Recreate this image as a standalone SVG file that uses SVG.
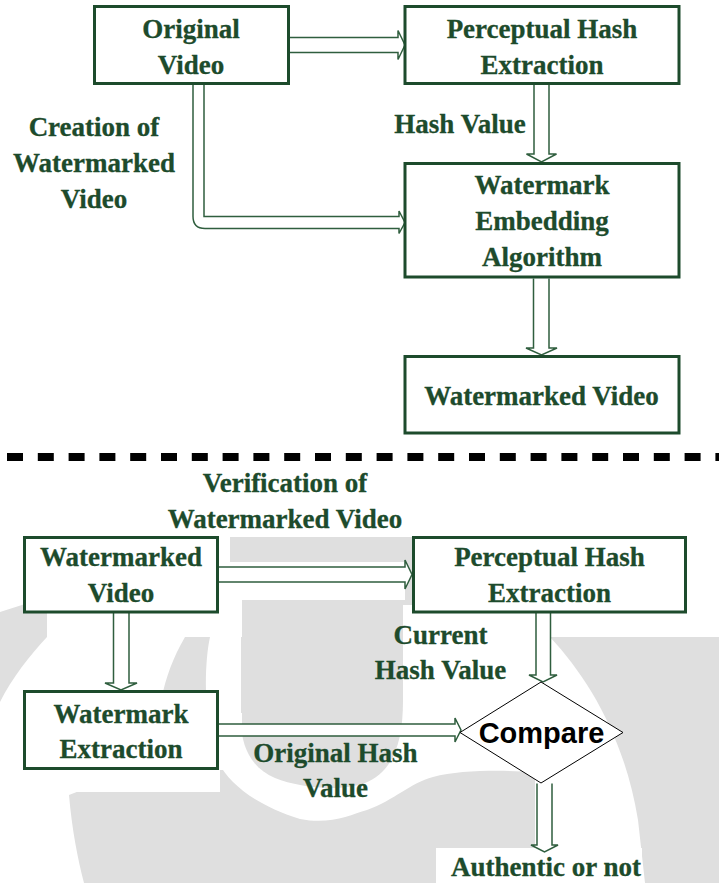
<svg xmlns="http://www.w3.org/2000/svg" width="719" height="883" viewBox="0 0 719 883">
  <defs>
    <style>
      .bg { fill: #dfdfdf; stroke: none; }
      .wh { fill: #ffffff; stroke: none; }
      .box { fill: #ffffff; stroke: #1d4b2c; stroke-width: 3; }
      .lbl { font-family: "Liberation Serif", "Times New Roman", serif; font-weight: bold; font-size: 27px; fill: #1d4b2c; stroke: #1d4b2c; stroke-width: 0.3; text-anchor: middle; }
      .arrow { fill: #ffffff; stroke: #2f5e3e; stroke-width: 1.5; stroke-linejoin: miter; }
      .cmp { font-family: "Liberation Sans", Arial, sans-serif; font-weight: bold; font-size: 29px; fill: #000000; text-anchor: middle; }
      .dash { stroke: #000000; stroke-width: 8; stroke-dasharray: 16 14.8; fill: none; }
    </style>
  </defs>

  <rect x="0" y="0" width="719" height="883" fill="#ffffff"/>

  <!-- faint emblem behind the lower half -->
  <g id="emblem">
    <!-- left arc of the outer ring -->
    <path class="bg" d="M0,612 L47,597 L47,637 C30,655 12,678 0,702 Z"/>
    <!-- band under the verification heading -->
    <path class="bg" d="M230,537 H412 V605 H230 Z"/>
    <rect class="wh" x="218" y="562" width="187" height="38"/>
    <!-- upper blob -->
    <path class="bg" d="M243,605 H403 V700 C403,745 392,772 365,783 C340,792 300,788 275,778 C252,768 241,748 241,720 V605 Z"/>
    <!-- outer C-shaped band wrapping left and bottom -->
    <path class="bg" d="M185,637 L210,637 C205,660 204,700 210,740 C216,770 240,800 300,819 C330,825 350,815 367,810 C395,800 410,783 433,777 C460,770 500,770 535,772 L535,883 L84,883 C78,860 72,830 69,795 C100,782 130,775 156,770 C156,720 160,680 185,637 Z"/>
    <!-- right arc of the outer ring -->
    <path class="bg" d="M550,637 C590,680 625,740 638,820 L645,883 H719 V637 Z"/>
    <!-- clear areas behind labels -->
    <rect class="wh" x="47" y="600" width="195" height="37"/>
    <rect class="wh" x="0" y="770" width="220" height="22"/>
    <rect class="wh" x="218" y="713" width="24" height="57"/>
    <rect class="wh" x="436" y="848" width="206" height="35"/>
  </g>

  <!-- separator between creation and verification -->
  <line id="separator" class="dash" x1="7" y1="457" x2="719" y2="457"/>

  <!-- connectors (block arrows) -->
  <g id="connectors">
    <path class="arrow" d="M289.5,37.5 H398 V30.5 L405,45 L398,59.5 V52.5 H289.5"/>
    <path class="arrow" d="M534,84.5 V154 H526.5 L541.5,162 L556.5,154 H549 V84.5"/>
    <path class="arrow" d="M193,84.5 V216.5 Q193,228.5 205,228.5 H399 V233.5 L405,222.5 L399,211 V216.5 H204 V84.5"/>
    <path class="arrow" d="M533.5,278.5 V348 H526 L541.5,355 L557,348 H549 V278.5"/>
    <path class="arrow" d="M218.5,567 H405 V560 L412,574.5 L405,589 V582 H218.5"/>
    <path class="arrow" d="M113.5,613 V683 H105 L121,690 L137,683 H129 V613"/>
    <path class="arrow" d="M219,724 H455 V718 L461,730 L455,742 V736 H219"/>
    <path class="arrow" d="M536,613 V675 H529 L543,682 L557,675 H550.5 V613"/>
    <path class="arrow" d="M537,783.5 V845 H531 L544.5,852 L558,845 H552 V783.5"/>
  </g>

  <!-- creation stage -->
  <g id="original-video">
    <rect class="box" x="94.5" y="6.5" width="194" height="77"/>
    <text class="lbl" x="191" y="38">Original</text>
    <text class="lbl" x="191" y="74">Video</text>
  </g>
  <g id="hash-extraction-1">
    <rect class="box" x="405" y="6.5" width="274" height="77"/>
    <text class="lbl" x="542" y="38">Perceptual Hash</text>
    <text class="lbl" x="542" y="74">Extraction</text>
  </g>
  <g id="label-hash-value">
    <text class="lbl" x="460" y="133">Hash Value</text>
  </g>
  <g id="label-creation">
    <text class="lbl" x="94" y="136">Creation of</text>
    <text class="lbl" x="94" y="172">Watermarked</text>
    <text class="lbl" x="94" y="208">Video</text>
  </g>
  <g id="embedding">
    <rect class="box" x="405" y="163.5" width="274" height="113.5"/>
    <text class="lbl" x="542" y="194">Watermark</text>
    <text class="lbl" x="542" y="230">Embedding</text>
    <text class="lbl" x="542" y="266">Algorithm</text>
  </g>
  <g id="watermarked-video-out">
    <rect class="box" x="405" y="356.5" width="274" height="76.5"/>
    <text class="lbl" x="541.5" y="405">Watermarked Video</text>
  </g>

  <!-- verification stage -->
  <g id="label-verification">
    <text class="lbl" x="285" y="492">Verification of</text>
    <text class="lbl" x="285" y="528">Watermarked Video</text>
  </g>
  <g id="watermarked-video-in">
    <rect class="box" x="24.5" y="537.5" width="193" height="74.5"/>
    <text class="lbl" x="121" y="566">Watermarked</text>
    <text class="lbl" x="121" y="602">Video</text>
  </g>
  <g id="hash-extraction-2">
    <rect class="box" x="413.5" y="537.5" width="272" height="74.5"/>
    <text class="lbl" x="549.5" y="566">Perceptual Hash</text>
    <text class="lbl" x="549.5" y="602">Extraction</text>
  </g>
  <g id="label-current-hash">
    <text class="lbl" x="440.5" y="644">Current</text>
    <text class="lbl" x="440.5" y="679">Hash Value</text>
  </g>
  <g id="watermark-extraction">
    <rect class="box" x="24.5" y="691.5" width="193" height="77"/>
    <text class="lbl" x="121" y="722.5">Watermark</text>
    <text class="lbl" x="121" y="758">Extraction</text>
  </g>
  <g id="label-original-hash">
    <text class="lbl" x="335.5" y="762">Original Hash</text>
    <text class="lbl" x="335.5" y="797">Value</text>
  </g>
  <g id="compare">
    <polygon points="541,682 623,732.5 541,783 460,732.5" fill="#ffffff" stroke="#000000" stroke-width="1"/>
    <text class="cmp" x="541.5" y="742.5">Compare</text>
  </g>
  <g id="result">
    <text class="lbl" x="546" y="876">Authentic or not</text>
  </g>
</svg>
